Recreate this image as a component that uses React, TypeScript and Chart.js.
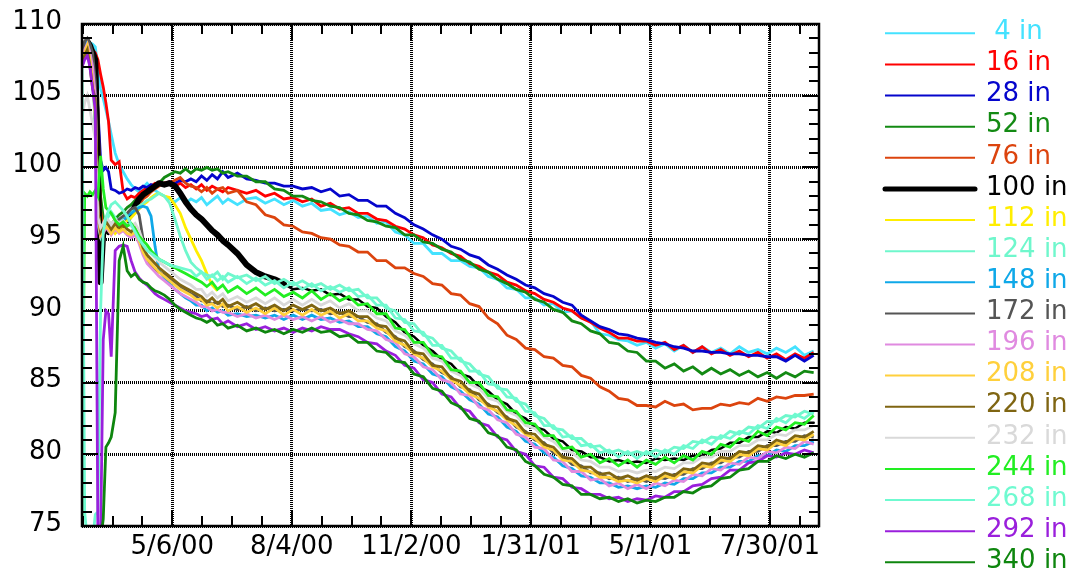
import React, { useEffect, useRef } from 'react';
import { Chart, registerables } from 'chart.js';

Chart.register(...registerables);

// Days since 2000-02-28
const DAYS = [
  0, 2, 4, 6, 8, 10, 12, 14, 16, 18,
  20, 22, 25, 28, 31, 34, 37, 40, 43, 46,
  49, 52, 55, 58, 62, 66, 70, 74, 78, 82,
  86, 90, 94, 98, 102, 106, 110, 117, 124, 131,
  138, 145, 152, 159, 166, 173, 180, 187, 194, 201,
  208, 215, 222, 229, 236, 243, 250, 257, 264, 271,
  278, 285, 292, 299, 306, 313, 320, 327, 334, 341,
  348, 355, 362, 369, 376, 383, 390, 397, 404, 411,
  418, 425, 432, 439, 446, 453, 460, 467, 474, 481,
  488, 495, 502, 509, 516, 523, 530, 537, 544, 551,
];

const X_MIN = 0;
const X_MAX = 555;
const X_TICK_DAYS = [68, 158, 248, 338, 428, 518];
const X_TICK_LABELS = ['5/6/00', '8/4/00', '11/2/00', '1/31/01', '5/1/01', '7/30/01'];
const X_MINOR_STEP = 22.5;
const Y_MIN = 75;
const Y_MAX = 110;
const Y_MAJOR_STEP = 5;

const SERIES_LABELS = [' 4 in', '16 in', '28 in', '52 in', '76 in', '100 in', '112 in', '124 in', '148 in',
  '172 in', '196 in', '208 in', '220 in', '232 in', '244 in', '268 in', '292 in', '340 in'];
const SERIES_COLORS = ['#44e2ff', '#ff0000', '#0505cc', '#138a13', '#dc440e', '#000000', '#ffee00', '#6ff7cc',
  '#0fa8e8', '#555555', '#e08ae0', '#ffd03c', '#7f6512', '#d9d9d9', '#22ee22', '#6ffad0', '#9a1fdc', '#0e860e'];

const S4 = [
  108.3, 108.6, 108.8, 108.7, 108.6, 108.4, 107.0, 105.5, 104.8, 104.0,
  103.2, 102.3, 101.0, 100.2, 99.7, 99.2, 98.8, 98.5, 98.3, 98.6,
  98.9, 98.6, 98.4, 98.2, 98.0, 97.8, 97.6, 97.9, 97.5, 97.8,
  97.6, 97.9, 97.4, 97.7, 98.0, 97.5, 97.8, 97.4, 97.8, 97.9,
  97.5, 97.8, 97.4, 97.7, 97.3, 97.5, 97.0, 97.1, 96.7, 96.9,
  96.5, 96.6, 96.1, 96.2, 95.5, 95.3, 94.7, 94.7, 94.0, 94.0,
  93.5, 93.5, 93.1, 93.0, 92.4, 92.2, 91.6, 91.5, 90.9, 90.9,
  90.4, 90.5, 89.9, 90.0, 89.5, 89.3, 88.4, 88.3, 88.0, 87.9,
  87.6, 87.8, 87.4, 87.7, 87.2, 87.6, 87.1, 87.5, 87.1, 87.4,
  87.0, 87.5, 87.1, 87.3, 87.0, 87.4, 87.1, 87.5, 86.9, 87.2,
];
const S16 = [
  107.5, 108.3, 108.6, 108.5, 108.2, 108.0, 107.5, 106.5, 105.6, 104.5,
  103.2, 100.5, 100.2, 100.4, 98.3, 97.8, 98.0, 97.9, 98.2, 98.4,
  98.6, 98.7, 98.9, 98.8, 98.9, 99.0, 98.7, 98.9, 98.6, 98.8,
  98.5, 98.8, 98.4, 98.7, 98.5, 98.3, 98.6, 98.4, 98.2, 98.4,
  98.0, 98.2, 97.8, 97.9, 97.6, 97.8, 97.3, 97.5, 97.1, 97.2,
  96.8, 96.8, 96.4, 96.3, 95.9, 95.7, 95.3, 95.1, 94.6, 94.4,
  94.0, 93.8, 93.3, 93.1, 92.7, 92.5, 92.0, 91.8, 91.4, 91.2,
  90.8, 90.6, 90.2, 90.0, 89.5, 89.2, 88.8, 88.5, 88.1, 88.1,
  87.9, 87.9, 87.6, 87.8, 87.3, 87.6, 87.1, 87.5, 87.0, 87.3,
  86.9, 87.2, 86.8, 87.1, 86.7, 87.0, 86.6, 87.0, 86.7, 87.1,
];
const S28 = [
  108.0, 108.5, 108.7, 108.4, 108.2, 107.8, 104.0, 100.5, 99.8, 100.0,
  99.7, 98.5, 98.4, 98.2, 98.3, 98.5, 98.4, 98.6, 98.5, 98.7,
  98.6, 98.8, 98.7, 98.9, 98.8, 99.0, 98.9, 99.1, 99.0, 99.2,
  99.0, 99.4, 99.1, 99.5, 99.2, 99.7, 99.3, 99.6, 99.2, 99.1,
  98.9, 98.9, 98.7, 98.7, 98.5, 98.6, 98.3, 98.5, 98.0, 98.1,
  97.7, 97.7, 97.3, 97.3, 96.8, 96.5, 96.0, 95.7, 95.3, 95.0,
  94.5, 94.3, 93.9, 93.7, 93.2, 92.9, 92.5, 92.2, 91.8, 91.6,
  91.2, 91.0, 90.6, 90.4, 89.7, 89.3, 88.9, 88.7, 88.4, 88.3,
  88.1, 88.0, 87.8, 87.7, 87.5, 87.4, 87.2, 87.2, 87.1, 87.1,
  87.0, 87.0, 86.9, 86.9, 86.8, 86.8, 86.5, 86.9, 86.5, 86.9,
];
const S52 = [
  107.5, 108.0, 108.3, 108.0, 107.8, 107.0, 103.0, 98.0, 96.5, 96.0,
  96.2, 96.0, 96.4, 96.7, 96.9, 97.2, 97.4, 97.7, 97.9, 98.1,
  98.3, 98.5, 98.7, 98.9, 99.3, 99.5, 99.7, 99.6, 99.9, 99.6,
  99.9, 99.8, 100.0, 99.8, 99.9, 99.6, 99.7, 99.4, 99.4, 99.0,
  99.0, 98.5, 98.4, 98.0, 98.0, 97.7, 97.6, 97.3, 97.2, 96.8,
  96.7, 96.3, 96.2, 95.9, 95.8, 95.3, 95.3, 94.8, 94.7, 94.3,
  94.1, 93.6, 93.4, 92.9, 92.7, 92.2, 91.9, 91.5, 91.3, 90.8,
  90.6, 90.1, 89.9, 89.3, 89.1, 88.6, 88.4, 87.8, 87.7, 87.2,
  87.1, 86.5, 86.5, 86.0, 86.3, 85.8, 86.1, 85.6, 86.0, 85.6,
  85.9, 85.5, 85.8, 85.4, 85.7, 85.3, 85.7, 85.4, 85.8, 85.7,
];
const S76 = [
  107.8, 108.2, 108.5, 108.3, 107.5, 106.5, 104.0, 97.0, 95.8, 96.2,
  95.8, 96.0, 96.3, 96.0, 96.5, 96.2, 96.6, 97.0, 97.4, 97.8,
  98.0, 98.3, 98.5, 98.7, 98.9, 98.9, 99.1, 99.3, 98.9, 98.7,
  98.6, 98.3, 98.6, 98.2, 98.5, 98.6, 98.2, 98.4, 97.6, 97.4,
  96.7, 96.5, 96.0, 95.9, 95.5, 95.4, 95.1, 95.0, 94.6, 94.5,
  94.1, 94.1, 93.5, 93.5, 93.0, 93.0, 92.6, 92.4, 91.9, 91.8,
  91.2, 91.1, 90.5, 90.3, 89.5, 89.1, 88.3, 88.0, 87.4, 87.3,
  86.8, 86.7, 86.2, 86.1, 85.5, 85.3, 84.7, 84.4, 83.9, 83.8,
  83.4, 83.4, 83.3, 83.7, 83.4, 83.5, 83.1, 83.2, 83.2, 83.5,
  83.4, 83.6, 83.5, 83.9, 83.7, 84.0, 83.9, 84.1, 84.1, 84.2,
];
const S100 = [
  107.5, 108.5, 108.8, 108.5, 108.0, 107.5, 100.0, 92.0, 95.5, 95.8,
  95.5, 95.9, 95.6, 95.8, 96.0, 96.3, 96.8, 97.3, 97.8, 98.1,
  98.3, 98.5, 98.7, 98.9, 98.8, 98.9, 98.7, 98.2, 97.6, 97.1,
  96.7, 96.4, 96.0, 95.6, 95.3, 94.9, 94.6, 94.0, 93.2, 92.7,
  92.4, 92.2, 91.9, 91.5, 91.6, 91.4, 91.5, 91.1, 91.2, 90.8,
  90.8, 90.3, 90.2, 89.6, 89.2, 88.5, 88.2, 87.6, 87.2, 86.6,
  86.3, 85.6, 85.4, 84.7, 84.4, 83.8, 83.5, 82.8, 82.5, 81.9,
  81.7, 81.1, 80.9, 80.3, 80.2, 79.8, 79.8, 79.5, 79.6, 79.4,
  79.5, 79.4, 79.7, 79.6, 79.7, 79.6, 79.9, 79.9, 80.3, 80.4,
  80.8, 80.8, 81.2, 81.2, 81.6, 81.5, 81.9, 81.8, 82.2, 82.2,
];
const S112 = [
  107.2, 108.0, 108.3, 107.8, 106.5, 104.5, 97.0, 95.6, 95.5, 96.0,
  95.6, 95.8, 95.4, 95.7, 96.0, 96.3, 96.5, 96.8, 97.1, 97.4,
  97.6, 97.9, 98.1, 98.2, 98.0, 97.9, 97.4, 96.8, 95.8, 95.0,
  94.2, 93.5, 92.6, 91.8, 91.4, null, null, null, null, null,
  null, null, null, null, null, null, null, null, null, null,
  null, null, null, null, null, null, null, null, null, null,
  null, null, null, null, null, null, null, null, null, null,
  null, null, null, null, null, null, null, null, null, null,
  null, null, null, null, null, null, null, null, null, null,
  null, null, null, null, null, null, null, null, null, null,
];
const S124 = [
  107.0, 107.8, 108.0, 107.5, 106.0, 103.0, 96.0, 95.2, 95.8, 96.3,
  96.6, 96.9, 96.5, 96.2, 96.4, 96.6, 96.9, 97.1, 97.3, 97.5,
  97.7, 97.8, 98.0, 98.2, 98.0, 97.5, 96.4, 95.2, 94.2, 93.4,
  93.0, 92.7, 92.5, 92.4, 92.7, 92.2, 92.6, 92.3, 92.5, 92.1,
  92.4, 91.9, 92.2, 91.8, 92.1, 91.7, 91.9, 91.5, 91.8, 91.4,
  91.5, 90.9, 90.9, 90.2, 90.0, 89.2, 89.1, 88.3, 88.1, 87.4,
  87.2, 86.5, 86.3, 85.6, 85.4, 84.6, 84.5, 83.7, 83.5, 82.7,
  82.5, 81.8, 81.7, 81.1, 81.1, 80.5, 80.6, 80.1, 80.3, 80.0,
  80.2, 80.0, 80.3, 80.1, 80.5, 80.4, 80.9, 80.8, 81.2, 81.1,
  81.6, 81.4, 81.9, 81.8, 82.3, 82.3, 82.7, 82.6, 83.0, 82.8,
];
const S148 = [
  107.5, 108.3, 108.8, 108.5, 107.0, 104.0, 96.5, 95.5, 95.7, 96.0,
  95.8, 95.5, 95.9, 96.1, 96.3, 96.6, 96.8, 97.0, 97.2, 97.3,
  97.2, 96.6, 94.5, 92.8, 92.3, 91.9, 91.5, 91.2, 90.9, 90.7,
  90.4, 90.4, 90.0, 90.2, 89.9, 90.0, 89.7, 89.8, 89.6, 89.7,
  89.5, 89.7, 89.4, 89.7, 89.4, 89.7, 89.4, 89.5, 89.2, 89.3,
  88.9, 88.9, 88.4, 88.2, 87.5, 87.2, 86.5, 86.3, 85.6, 85.4,
  84.7, 84.4, 83.8, 83.5, 82.8, 82.6, 81.9, 81.6, 80.9, 80.7,
  80.1, 79.8, 79.2, 79.0, 78.5, 78.4, 78.0, 78.0, 77.7, 77.8,
  77.6, 77.8, 77.7, 78.0, 77.9, 78.3, 78.3, 78.7, 78.7, 79.1,
  79.1, 79.5, 79.5, 79.9, 79.9, 80.3, 80.2, 80.6, 80.6, 80.9,
];
const S172 = [
  107.8, 108.8, 109.0, 108.6, 108.0, 106.0, 96.5, 95.6, 95.9, 96.2,
  96.0, 95.8, 96.2, 96.4, 96.6, 96.8, 97.1, 97.2, 96.7, 95.0,
  93.5, 93.2, 92.9, 92.7, 92.5, 92.2, 91.9, 91.6, 91.4, 91.2,
  91.0, 90.7, 90.7, 90.5, 90.6, 90.3, 90.4, 90.1, 90.3, 90.0,
  90.2, 90.0, 90.1, 90.0, 90.1, 90.0, 90.1, 89.8, 89.9, 89.6,
  89.6, 89.2, 89.1, 88.5, 88.2, 87.5, 87.2, 86.6, 86.3, 85.7,
  85.4, 84.7, 84.5, 83.8, 83.5, 82.9, 82.6, 81.9, 81.6, 81.0,
  80.8, 80.1, 79.9, 79.3, 79.2, 78.7, 78.7, 78.3, 78.4, 78.1,
  78.3, 78.1, 78.4, 78.3, 78.6, 78.6, 79.0, 79.0, 79.4, 79.4,
  79.8, 79.8, 80.2, 80.2, 80.6, 80.6, 80.9, 80.9, 81.3, 81.2,
];
const S196 = [
  107.5, 108.2, 108.6, 108.0, 107.0, 105.0, 96.8, 95.2, 95.4, 95.8,
  95.6, 95.3, 95.7, 95.4, 95.6, 95.3, 95.1, 95.3, 94.7, 93.9,
  93.3, 93.0, 92.7, 92.4, 92.1, 91.8, 91.5, 91.2, 91.0, 90.8,
  90.6, 90.3, 90.3, 90.0, 90.1, 89.9, 89.9, 89.6, 89.8, 89.5,
  89.7, 89.4, 89.7, 89.4, 89.6, 89.3, 89.6, 89.2, 89.4, 89.1,
  89.1, 88.7, 88.6, 88.0, 87.8, 87.0, 86.8, 86.1, 85.9, 85.2,
  85.0, 84.2, 84.1, 83.3, 83.1, 82.4, 82.2, 81.4, 81.2, 80.5,
  80.4, 79.6, 79.5, 78.8, 78.8, 78.2, 78.3, 77.8, 78.0, 77.6,
  77.9, 77.6, 78.0, 77.8, 78.2, 78.1, 78.6, 78.5, 79.0, 78.9,
  79.4, 79.3, 79.8, 79.7, 80.2, 80.1, 80.5, 80.4, 80.9, 80.7,
];
const S208 = [
  107.5, 108.0, 108.5, 107.5, 106.0, 103.5, 96.5, 95.3, 95.6, 95.9,
  95.7, 95.4, 95.8, 95.5, 95.7, 95.4, 95.3, 95.5, 94.9, 94.1,
  93.6, 93.3, 93.0, 92.7, 92.4, 92.1, 91.8, 91.5, 91.3, 91.1,
  90.8, 90.8, 90.4, 90.5, 90.2, 90.5, 90.0, 90.3, 89.9, 90.2,
  89.8, 90.2, 89.7, 90.1, 89.7, 90.1, 89.7, 90.0, 89.5, 89.8,
  89.3, 89.3, 88.8, 88.6, 87.9, 87.6, 87.0, 86.7, 86.1, 85.8,
  85.2, 84.8, 84.2, 83.9, 83.3, 83.0, 82.4, 82.0, 81.4, 81.1,
  80.5, 80.3, 79.6, 79.5, 78.9, 78.8, 78.4, 78.4, 78.1, 78.2,
  78.0, 78.3, 78.1, 78.5, 78.3, 78.8, 78.7, 79.2, 79.1, 79.6,
  79.5, 80.0, 79.9, 80.4, 80.3, 80.8, 80.6, 81.1, 81.0, 81.4,
];
const S220 = [
  107.0, 107.8, 108.2, 107.0, 105.5, 104.8, 97.0, 95.5, 95.8, 96.2,
  96.0, 95.7, 96.1, 95.8, 96.0, 95.7, 95.5, 95.8, 95.2, 94.4,
  93.9, 93.6, 93.3, 93.0, 92.7, 92.4, 92.1, 91.8, 91.6, 91.4,
  91.2, 91.0, 90.6, 90.9, 90.5, 90.8, 90.3, 90.6, 90.2, 90.5,
  90.1, 90.4, 90.0, 90.4, 90.1, 90.4, 90.0, 90.2, 89.8, 90.0,
  89.6, 89.6, 89.0, 88.9, 88.1, 87.9, 87.1, 87.0, 86.2, 86.1,
  85.3, 85.1, 84.4, 84.2, 83.4, 83.3, 82.5, 82.3, 81.5, 81.4,
  80.7, 80.5, 79.8, 79.7, 79.1, 79.1, 78.6, 78.7, 78.3, 78.5,
  78.2, 78.5, 78.3, 78.7, 78.5, 79.0, 78.9, 79.4, 79.3, 79.8,
  79.7, 80.2, 80.1, 80.6, 80.5, 81.0, 80.8, 81.3, 81.2, 81.6,
];
const S232 = [
  103.5, 104.5, 105.0, 104.0, 103.0, 102.0, 96.5, 95.8, 96.1, 96.5,
  96.3, 96.0, 96.4, 96.1, 96.3, 96.0, 95.9, 96.1, 95.6, 94.8,
  94.3, 94.0, 93.7, 93.4, 93.1, 92.8, 92.5, 92.2, 92.0, 91.8,
  91.5, 91.5, 91.0, 91.3, 90.9, 91.2, 90.7, 91.0, 90.6, 90.9,
  90.5, 90.9, 90.4, 90.8, 90.4, 90.8, 90.4, 90.7, 90.2, 90.5,
  90.0, 90.0, 89.5, 89.3, 88.6, 88.3, 87.7, 87.4, 86.7, 86.5,
  85.8, 85.5, 84.9, 84.6, 83.9, 83.7, 83.0, 82.7, 82.0, 81.8,
  81.2, 80.9, 80.3, 80.1, 79.6, 79.5, 79.1, 79.1, 78.8, 78.9,
  78.7, 78.9, 78.8, 79.1, 79.0, 79.4, 79.4, 79.8, 79.8, 80.2,
  80.2, 80.6, 80.6, 81.0, 81.0, 81.4, 81.3, 81.7, 81.7, 82.0,
];
const S244 = [
  75.0, 98.2, 98.0, 98.3, 98.1, 98.4, 98.0, 100.8, 98.5, 97.2,
  97.0, 96.8, 96.3, 96.0, 96.2, 95.9, 96.1, 95.7, 95.2, 94.9,
  94.6, 94.2, 93.9, 93.6, 93.4, 93.2, 93.0, 92.8, 92.6, 92.4,
  92.2, 92.0, 91.7, 92.0, 91.5, 91.8, 91.3, 91.7, 91.2, 91.6,
  91.1, 91.5, 91.0, 91.3, 90.9, 91.4, 90.8, 91.2, 90.7, 91.0,
  90.4, 90.5, 89.8, 89.8, 88.8, 88.7, 87.8, 87.8, 86.9, 86.8,
  85.9, 85.8, 85.0, 85.0, 84.1, 84.0, 83.1, 83.0, 82.2, 82.1,
  81.3, 81.3, 80.4, 80.5, 79.8, 80.0, 79.4, 79.7, 79.2, 79.6,
  79.1, 79.6, 79.3, 79.8, 79.4, 79.9, 79.6, 80.2, 80.0, 80.7,
  80.5, 81.1, 80.9, 81.6, 81.3, 81.9, 81.7, 82.2, 82.1, 82.7,
];
const S268 = [
  107.5, 76.0, 74.0, 74.0, 74.0, 75.8, 76.0, 90.0, 95.5, 96.5,
  97.0, 97.4, 97.6, 97.3, 97.0, 96.6, 96.0, 95.5, 95.0, 94.6,
  94.2, 94.0, 93.8, 93.6, 93.4, 93.2, 93.1, 93.0, 92.9, 92.8,
  92.4, 92.7, 92.2, 92.5, 92.1, 92.4, 92.0, 92.4, 91.9, 92.3,
  91.8, 92.1, 91.6, 92.0, 91.5, 91.9, 91.4, 91.7, 91.3, 91.6,
  91.0, 91.1, 90.4, 90.4, 89.5, 89.4, 88.6, 88.5, 87.6, 87.6,
  86.7, 86.7, 85.8, 85.8, 84.9, 84.8, 84.0, 83.9, 83.0, 82.9,
  82.0, 82.0, 81.2, 81.3, 80.6, 80.7, 80.1, 80.3, 79.8, 80.2,
  79.7, 80.2, 79.8, 80.3, 80.0, 80.6, 80.4, 81.0, 80.7, 81.3,
  81.1, 81.6, 81.4, 82.0, 81.8, 82.5, 82.2, 82.8, 82.5, 83.0,
];
const S292 = [
  107.0, 107.5, 107.8, 107.0, 105.5, 104.0, 74.0, 74.0, 88.0, 90.0,
  89.8, 86.8, 94.2, 94.5, 94.6, 94.5, 93.5, 92.7, 92.3, 92.0,
  91.8, 91.5, 91.2, 91.0, 90.8, 90.6, 90.4, 90.2, 90.0, 89.9,
  89.8, 89.6, 89.7, 89.4, 89.5, 89.1, 89.3, 88.9, 89.1, 88.7,
  88.9, 88.6, 88.8, 88.5, 88.8, 88.6, 88.9, 88.7, 88.7, 88.4,
  88.2, 87.8, 87.7, 87.2, 86.9, 86.2, 86.0, 85.2, 85.0, 84.2,
  84.0, 83.2, 83.0, 82.2, 82.0, 81.2, 81.0, 80.2, 80.0, 79.2,
  79.1, 78.4, 78.3, 77.7, 77.6, 77.2, 77.2, 76.9, 77.0, 76.7,
  76.9, 76.8, 77.1, 77.0, 77.4, 77.4, 77.8, 77.9, 78.3, 78.4,
  78.9, 78.9, 79.4, 79.5, 79.9, 79.8, 80.1, 80.0, 80.3, 80.1,
];
const S340 = [
  74.0, 74.0, 74.0, 74.0, 74.0, 74.0, 74.0, 74.0, 75.5, 80.5,
  80.8, 81.2, 82.9, 93.5, 94.5, 92.8, 92.4, 92.6, 92.2, 92.0,
  91.9, 91.6, 91.4, 91.3, 91.1, 90.8, 90.4, 90.1, 89.9, 89.7,
  89.5, 89.4, 89.2, 89.4, 89.0, 89.1, 88.8, 89.0, 88.6, 88.8,
  88.5, 88.7, 88.4, 88.7, 88.5, 88.8, 88.5, 88.6, 88.2, 88.3,
  87.8, 87.8, 87.2, 87.1, 86.5, 86.4, 85.6, 85.4, 84.6, 84.4,
  83.6, 83.3, 82.5, 82.3, 81.5, 81.3, 80.5, 80.3, 79.5, 79.2,
  78.6, 78.4, 77.9, 77.8, 77.2, 77.2, 76.9, 77.0, 76.7, 76.9,
  76.6, 76.8, 76.7, 77.0, 77.0, 77.4, 77.3, 77.7, 77.8, 78.3,
  78.4, 78.9, 79.0, 79.5, 79.5, 79.9, 79.7, 80.0, 79.8, 80.1,
];

const THICK_SERIES = 5; // "100 in"
const THICK_UNTIL_DAY = 152;

const FONT = "'DejaVu Sans', sans-serif";
const GRID_COLOR = '#000000';

function xTickValues(): number[] {
  const vals: number[] = [];
  let v = X_TICK_DAYS[0];
  while (v - X_MINOR_STEP >= X_MIN) v -= X_MINOR_STEP;
  for (; v <= X_MAX; v += X_MINOR_STEP) vals.push(v);
  return vals;
}
function isMajorX(v: number) {
  return X_TICK_DAYS.some((d) => Math.abs(d - v) < 1e-6);
}

const framePlugin = {
  id: 'frameTicks',
  afterDatasetsDraw(chart: any) {
    const { ctx, chartArea: a, scales } = chart;
    const xs = scales.x;
    const ys = scales.y;
    ctx.save();
    ctx.strokeStyle = '#000';
    ctx.lineWidth = 2;
    ctx.lineCap = 'butt';
    ctx.beginPath();
    for (const v of xTickValues()) {
      const px = Math.round(xs.getPixelForValue(v));
      const len = isMajorX(v) ? 16 : 10;
      ctx.moveTo(px, a.bottom);
      ctx.lineTo(px, a.bottom - len);
      ctx.moveTo(px, a.top);
      ctx.lineTo(px, a.top + len);
    }
    for (let v = Y_MIN; v <= Y_MAX; v += 1) {
      const py = Math.round(ys.getPixelForValue(v));
      const len = v % Y_MAJOR_STEP === 0 ? 16 : 10;
      ctx.moveTo(a.left, py);
      ctx.lineTo(a.left + len, py);
      ctx.moveTo(a.right, py);
      ctx.lineTo(a.right - len, py);
    }
    ctx.stroke();
    ctx.lineWidth = 2.5;
    ctx.strokeRect(a.left, a.top, a.right - a.left, a.bottom - a.top);
    ctx.restore();
  },
};

const legendPlugin = {
  id: 'sideLegend',
  afterDraw(chart: any) {
    const { ctx } = chart;
    const x0 = 885;
    const x1 = 975;
    const tx = 986;
    const y0 = 33.3;
    const dy = 31.12;
    ctx.save();
    ctx.font = `26px ${FONT}`;
    ctx.textBaseline = 'middle';
    ctx.textAlign = 'left';
    chart.data.datasets.forEach((ds: any, i: number) => {
      const y = y0 + i * dy;
      ctx.strokeStyle = ds.borderColor;
      ctx.lineWidth = i === THICK_SERIES ? 5 : 2;
      ctx.lineCap = i === THICK_SERIES ? 'round' : 'butt';
      ctx.beginPath();
      ctx.moveTo(x0, y);
      ctx.lineTo(x1, y);
      ctx.stroke();
      ctx.fillStyle = ds.borderColor;
      ctx.fillText(SERIES_LABELS[i], tx, y - 1);
    });
    ctx.restore();
  },
};

export default function App() {
  const ref = useRef<HTMLCanvasElement>(null);

  useEffect(() => {
    const series = [S4, S16, S28, S52, S76, S100, S112, S124, S148, S172, S196, S208, S220, S232, S244, S268, S292, S340];
    series.forEach((s, i) => {
      if (s.length !== DAYS.length) throw new Error(`series ${i} length ${s.length}`);
    });
    const datasets = series.map((vals, i) => {
      const base: any = {
        label: SERIES_LABELS[i].trim(),
        data: DAYS.map((d, j) => ({ x: d, y: vals[j] })),
        borderColor: SERIES_COLORS[i],
        backgroundColor: SERIES_COLORS[i],
        borderWidth: 2.8,
        pointRadius: 0,
        pointHoverRadius: 0,
        tension: 0,
        spanGaps: false,
        fill: false,
        order: series.length - i,
      };
      if (i === THICK_SERIES) {
        base.borderWidth = 6;
        base.borderCapStyle = 'round';
        base.borderJoinStyle = 'round';
        base.segment = {
          borderWidth: (c: any) => (c.p1.parsed.x <= THICK_UNTIL_DAY ? 6 : 2.5),
        };
      }
      return base;
    });

    const chart = new Chart(ref.current as HTMLCanvasElement, {
      type: 'line',
      data: { datasets },
      plugins: [framePlugin, legendPlugin],
      options: {
        animation: false,
        responsive: false,
        maintainAspectRatio: false,
        layout: { padding: { top: 24, right: 262, bottom: 0, left: 0 } },
        plugins: {
          legend: { display: false },
          tooltip: { enabled: false },
          title: { display: false },
        },
        scales: {
          x: {
            type: 'linear',
            min: X_MIN,
            max: X_MAX,
            afterBuildTicks: (s: any) => {
              s.ticks = xTickValues().map((v) => ({ value: v }));
            },
            afterFit: (s: any) => {
              s.height = 52;
              s.paddingLeft = 0;
              s.paddingRight = 0;
            },
            ticks: {
              autoSkip: false,
              maxRotation: 0,
              minRotation: 0,
              padding: 6,
              color: '#000',
              font: { family: FONT, size: 26 },
              callback: (v: any) => {
                const k = X_TICK_DAYS.findIndex((d) => Math.abs(d - v) < 1e-6);
                return k >= 0 ? X_TICK_LABELS[k] : '';
              },
            },
            grid: {
              drawTicks: false,
              lineWidth: 3,
              color: (c: any) => (c.tick && isMajorX(c.tick.value) ? GRID_COLOR : 'rgba(0,0,0,0)'),
            },
            border: { display: false, dash: [1, 1] },
          },
          y: {
            type: 'linear',
            min: Y_MIN,
            max: Y_MAX,
            afterBuildTicks: (s: any) => {
              const t = [];
              for (let v = Y_MIN; v <= Y_MAX; v += 1) t.push({ value: v });
              s.ticks = t;
            },
            afterFit: (s: any) => {
              s.width = 82;
              s.paddingTop = 0;
              s.paddingBottom = 0;
            },
            ticks: {
              autoSkip: false,
              padding: 20,
              labelOffset: -2,
              color: '#000',
              font: { family: FONT, size: 26 },
              callback: (v: any) => (v % Y_MAJOR_STEP === 0 ? String(v) : ''),
            },
            grid: {
              drawTicks: false,
              lineWidth: 3,
              color: (c: any) => (c.tick && c.tick.value % Y_MAJOR_STEP === 0 ? GRID_COLOR : 'rgba(0,0,0,0)'),
            },
            border: { display: false, dash: [1, 1] },
          },
        },
      },
    });
    return () => chart.destroy();
  }, []);

  return (
    <div style={{ position: 'absolute', left: 0, top: 0, width: 1081, height: 578, background: '#fff' }}>
      <canvas ref={ref} width={1081} height={578} style={{ display: 'block' }} />
    </div>
  );
}
